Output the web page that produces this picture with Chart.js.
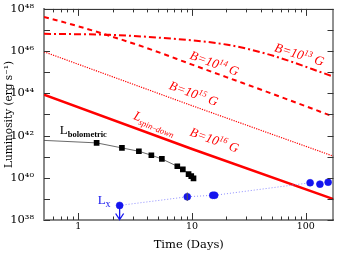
<!DOCTYPE html>
<html>
<head>
<meta charset="utf-8">
<script src="https://cdn.jsdelivr.net/npm/chart.js@4.4.0/dist/chart.umd.min.js"></script>
<style>
  html, body { margin: 0; padding: 0; background: #fff; }
  #wrap { width: 338px; height: 254px; }
</style>
</head>
<body>
<div id="wrap"><canvas id="grafico"></canvas></div>
<script>
// spin-down curves (t in days, L in erg/s)
const tB13 = [0.5, 1.9, 5.2, 20.5, 47.8, 175];
const lB13 = [6.6e46, 5.9e46, 4.3e46, 2.0e46, 6.8e45, 6.2e44];
const tB14 = [0.5, 1, 2, 4, 10, 20, 50, 175];
const lB14 = [4.2e47, 1.5e47, 4.8e46, 1.4e46, 2.3e45, 5.9e44, 9.8e43, 7.9e42];
const tB15 = [0.5, 10, 175];
const lB15 = [9.3e45, 2.6e43, 1.05e41];
const tB16 = [0.5, 10, 175];
const lB16 = [8.7e43, 2.3e41, 9.8e38];

// bolometric light curve (first entry = start of the fit line, no marker)
const tBol = [0.5, 1.45, 2.42, 3.41, 4.39, 5.43, 7.42, 8.30, 9.32, 9.84, 10.3];
const lBol = [5.9e41, 4.5e41, 2.6e41, 1.8e41, 1.17e41, 7.8e40, 3.5e40, 2.5e40, 1.5e40, 1.2e40, 9.3e39];

// X-ray points
const tX = [2.31, 9.08, 15.2, 15.8, 109, 133, 157];
const lX = [4.9e38, 1.26e39, 1.48e39, 1.48e39, 5.8e39, 5.0e39, 6.2e39];
const xErrDex = [0, 0.2, 0, 0, 0, 0, 0];
const xUpper = [true, false, false, false, false, false, false];

// axes
const xMajor = [1, 10, 100];
const xMajorLabels = ['1', '10', '100'];
const xMinor = [0.6, 0.7, 0.8, 0.9, 2, 3, 4, 5, 6, 7, 8, 9, 20, 30, 40, 50, 60, 70, 80, 90];
const yTickVals = [1e38, 1e39, 1e40, 1e41, 1e42, 1e43, 1e44, 1e45, 1e46, 1e47, 1e48];
const yTickLabels = ['10³⁸', '', '10⁴⁰', '', '10⁴²', '', '10⁴⁴', '', '10⁴⁶', '', '10⁴⁸'];

const pts = (ts, ls) => ts.map((t, i) => ({x: t, y: ls[i]}));

// text on the plot: position in data units, angle in degrees
const notes = [
  {t: 87.7, L: 6.8e45, ang: 17, color: 'red', parts: [['B=10', 'italic 13px "Liberation Serif"', 0], ['13', 'italic 8.5px "Liberation Serif"', -5], [' G', 'italic 13px "Liberation Serif"', 0]]},
  {t: 15.7, L: 2.6e45, ang: 20, color: 'red', parts: [['B=10', 'italic 13px "Liberation Serif"', 0], ['14', 'italic 8.5px "Liberation Serif"', -5], [' G', 'italic 13px "Liberation Serif"', 0]]},
  {t: 10.3, L: 9.5e43, ang: 20, color: 'red', parts: [['B=10', 'italic 13px "Liberation Serif"', 0], ['15', 'italic 8.5px "Liberation Serif"', -5], [' G', 'italic 13px "Liberation Serif"', 0]]},
  {t: 15.7, L: 6.0e41, ang: 20, color: 'red', parts: [['B=10', 'italic 13px "Liberation Serif"', 0], ['16', 'italic 8.5px "Liberation Serif"', -5], [' G', 'italic 13px "Liberation Serif"', 0]]},
  {t: 4.69, L: 3.8e42, ang: 22, color: 'red', parts: [['L', 'italic 13px "Liberation Serif"', 0], ['spin\u2013down', 'italic 8.5px "Liberation Serif"', 3]]},
  {t: 0.688, L: 1.15e42, ang: 0, color: '#000', left: true, parts: [['L', '13px "Liberation Serif"', 0], ['bolometric', 'bold 8.5px "Liberation Serif"', 3]]},
  {t: 1.48, L: 5.6e38, ang: 0, color: '#1515ee', left: true, parts: [['L', '13px "Liberation Serif"', 0], ['x', '10px "Liberation Serif"', 3]]}
];

const deco = {
  id: 'deco',
  afterDatasetsDraw(chart) {
    const {ctx, chartArea: a, scales: {x, y}} = chart;
    ctx.save();
    // error bar and upper limit arrow on the X-ray points
    ctx.strokeStyle = '#555';
    ctx.lineWidth = 1;
    tX.forEach((t, i) => {
      if (!xErrDex[i]) return;
      const px = x.getPixelForValue(t);
      ctx.beginPath();
      ctx.moveTo(px, y.getPixelForValue(lX[i] * Math.pow(10, xErrDex[i])));
      ctx.lineTo(px, y.getPixelForValue(lX[i] / Math.pow(10, xErrDex[i])));
      ctx.stroke();
    });
    ctx.strokeStyle = '#1515ee';
    ctx.lineWidth = 1.3;
    tX.forEach((t, i) => {
      if (!xUpper[i]) return;
      const px = x.getPixelForValue(t);
      const py0 = y.getPixelForValue(lX[i]);
      const py1 = y.getPixelForValue(1e38) - 0.5;
      ctx.beginPath();
      ctx.moveTo(px, py0); ctx.lineTo(px, py1);
      ctx.moveTo(px - 4, py1 - 6); ctx.lineTo(px, py1); ctx.lineTo(px + 4, py1 - 6);
      ctx.stroke();
    });

    // top and right frame
    ctx.strokeStyle = '#222';
    ctx.lineWidth = 1;
    ctx.beginPath();
    ctx.moveTo(a.left, a.top + 0.5); ctx.lineTo(a.right, a.top + 0.5);
    ctx.moveTo(a.right - 0.5, a.top); ctx.lineTo(a.right - 0.5, a.bottom);
    ctx.stroke();

    // inward ticks on all four sides
    ctx.strokeStyle = '#333';
    ctx.beginPath();
    const xt = (v, len) => {
      const px = Math.round(x.getPixelForValue(v)) + 0.5;
      ctx.moveTo(px, a.bottom); ctx.lineTo(px, a.bottom - len);
      ctx.moveTo(px, a.top); ctx.lineTo(px, a.top + len);
    };
    xMajor.forEach(v => xt(v, 7));
    xMinor.forEach(v => xt(v, 3.5));
    yTickVals.forEach(v => {
      const py = Math.round(y.getPixelForValue(v)) + 0.5;
      ctx.moveTo(a.left, py); ctx.lineTo(a.left + 6, py);
      ctx.moveTo(a.right, py); ctx.lineTo(a.right - 6, py);
    });
    ctx.stroke();

    // labels
    notes.forEach(n => {
      const px = x.getPixelForValue(n.t);
      const py = y.getPixelForValue(n.L);
      let w = 0;
      n.parts.forEach(p => { ctx.font = p[1]; w += ctx.measureText(p[0]).width; });
      ctx.save();
      ctx.translate(px, py);
      ctx.rotate(n.ang * Math.PI / 180);
      ctx.fillStyle = n.color;
      ctx.textBaseline = 'alphabetic';
      let cx = n.left ? 0 : -w / 2;
      n.parts.forEach(p => {
        ctx.font = p[1];
        ctx.fillText(p[0], cx, (n.left ? 0 : 4) + p[2]);
        cx += ctx.measureText(p[0]).width;
      });
      ctx.restore();
    });
    ctx.restore();
  }
};

new Chart(document.getElementById('grafico'), {
  type: 'line',
  data: {
    datasets: [
      {
        label: 'L_X',
        data: pts(tX, lX),
        borderColor: '#8c8cff',
        borderWidth: 1,
        borderDash: [1, 2],
        pointRadius: 3.5,
        pointBackgroundColor: '#1515ee',
        pointBorderColor: '#1515ee',
        pointBorderWidth: 0.5
      },
      {
        label: 'L_bolometric',
        data: pts(tBol, lBol),
        borderColor: '#444',
        borderWidth: 0.8,
        pointStyle: 'rect',
        pointRadius: tBol.map((t, i) => i === 0 ? 0 : 4),
        pointBackgroundColor: '#000',
        pointBorderColor: '#000',
        pointBorderWidth: 0
      },
      {label: 'B=1e13', data: pts(tB13, lB13), borderColor: 'red', borderWidth: 2, borderDash: [7, 3, 2, 3], pointRadius: 0, cubicInterpolationMode: 'monotone'},
      {label: 'B=1e14', data: pts(tB14, lB14), borderColor: 'red', borderWidth: 2, borderDash: [5, 4], pointRadius: 0, cubicInterpolationMode: 'monotone'},
      {label: 'B=1e15', data: pts(tB15, lB15), borderColor: 'red', borderWidth: 1.2, borderDash: [1.2, 1.2], pointRadius: 0},
      {label: 'B=1e16', data: pts(tB16, lB16), borderColor: 'red', borderWidth: 2.5, pointRadius: 0}
    ]
  },
  options: {
    responsive: true,
    maintainAspectRatio: false,
    animation: false,
    layout: {padding: {top: 7, right: 4, left: 0, bottom: 0}},
    plugins: {legend: {display: false}, tooltip: {enabled: false}},
    scales: {
      x: {
        type: 'logarithmic',
        min: 0.5,
        max: 175,
        afterBuildTicks: s => { s.ticks = xMajor.map(v => ({value: v})); },
        afterFit: s => { s.height = 34; },
        grid: {display: false},
        border: {display: true, color: '#888', width: 2},
        ticks: {
          autoSkip: false,
          maxRotation: 0,
          padding: -7,
          color: '#000',
          font: {family: 'DejaVu Serif', size: 9.5},
          callback: (v, i) => xMajorLabels[i]
        },
        title: {display: true, text: 'Time (Days)', color: '#000', font: {family: 'DejaVu Serif', size: 11.5}, padding: {top: 0, bottom: 2}}
      },
      y: {
        type: 'logarithmic',
        min: 1e38,
        max: 1e48,
        afterBuildTicks: s => { s.ticks = yTickVals.map(v => ({value: v})); },
        afterFit: s => { s.width = 44; },
        grid: {display: false},
        border: {display: true, color: '#888', width: 2},
        ticks: {
          autoSkip: false,
          padding: 2,
          color: '#000',
          font: {family: 'DejaVu Serif', size: 11.5},
          callback: (v, i) => yTickLabels[i]
        },
        title: {display: true, text: 'Luminosity (erg s\u207b\u00b9)', color: '#000', font: {family: 'DejaVu Serif', size: 10.5}, padding: {top: 3, bottom: 0}}
      }
    }
  },
  plugins: [deco]
});
</script>
</body>
</html>
